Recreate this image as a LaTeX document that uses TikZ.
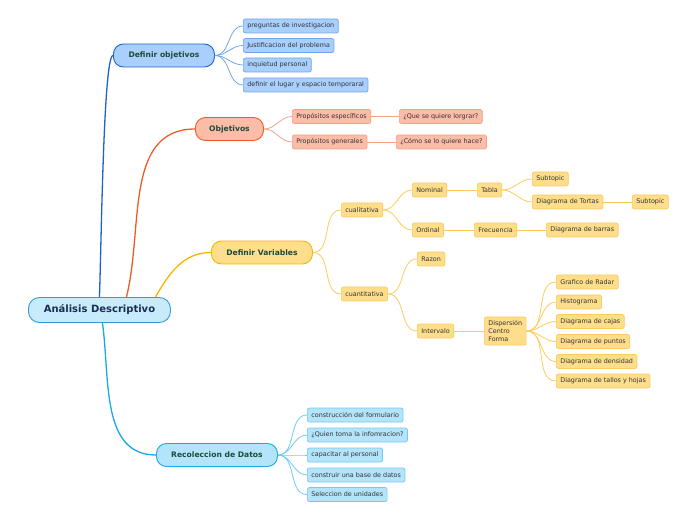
\documentclass[tikz,border=0pt]{standalone}
\usepackage{fontspec}
\setmainfont{DejaVu Sans}
\definecolor{rootfill}{HTML}{C8EBFB}
\definecolor{rootline}{HTML}{3A9AD8}
\definecolor{roottext}{HTML}{1B2D4F}
\definecolor{topictext}{HTML}{1D4B3A}
\definecolor{bluefill}{HTML}{A9CFFC}
\definecolor{blueline}{HTML}{1E62D0}
\definecolor{bluesub}{HTML}{72A6EC}
\definecolor{orgfill}{HTML}{FBBCA8}
\definecolor{orgline}{HTML}{F05A28}
\definecolor{orgsub}{HTML}{F5A088}
\definecolor{yelfill}{HTML}{FEDD8B}
\definecolor{yelline}{HTML}{F8B500}
\definecolor{yelsub}{HTML}{FCCB5E}
\definecolor{cyanfill}{HTML}{B4E4FA}
\definecolor{cyanline}{HTML}{1AA8E8}
\definecolor{cyansub}{HTML}{70CBF2}

\begin{document}
\begin{tikzpicture}[x=1pt,y=1pt,
  root/.style={draw=rootline,fill=rootfill,line width=0.9pt,rounded corners=11pt,
    minimum height=25pt,minimum width=142pt,anchor=west,text=roottext,
    font=\bfseries\fontsize{10}{12}\selectfont},
  topic/.style={draw=#1line,fill=#1fill,line width=0.9pt,rounded corners=10pt,
    minimum height=23pt,anchor=west,text=topictext,
    font=\bfseries\fontsize{7.6}{9}\selectfont},
  sub/.style={draw=#1sub,fill=#1fill,line width=0.7pt,rounded corners=2pt,
    minimum height=14pt,inner xsep=4pt,inner ysep=0pt,anchor=west,text=black!80,
    font=\fontsize{6.4}{7.6}\selectfont},
  bline/.style={every edge/.style={draw=#1line,line width=1.3pt}},
  tline/.style={every edge/.style={draw=#1sub,line width=0.8pt}},
  fan/.style={out=0,in=180}]
  \useasboundingbox (0,0) rectangle (696,520);

  \node[root] (root) at (28,210) {Análisis Descriptivo};

  % Definir objetivos
  \node[topic=blue,minimum width=101pt] (dobj) at (113,464.5) {Definir objetivos};
  \node[sub=blue] (preg) at (243,494)   {preguntas de investigacion};
  \node[sub=blue] (just) at (243,474.5) {Justificacion del problema};
  \node[sub=blue] (inq)  at (243,455)   {inquietud personal};
  \node[sub=blue] (lug)  at (243,435)   {definir el lugar y espacio temporaral};

  % Objetivos
  \node[topic=org,minimum width=68pt] (obj) at (195,391) {Objetivos};
  \node[sub=org] (pesp)   at (292,403.5) {Propósitos específicos};
  \node[sub=org] (pgen)   at (292,378)   {Propósitos generales};
  \node[sub=org] (lograr) at (399,403.5) {¿Que se quiere lorgrar?};
  \node[sub=org] (hacer)  at (396,378)   {¿Cómo se lo quiere hace?};

  % Definir Variables
  \node[topic=yel,minimum width=101pt] (var) at (211,267.5) {Definir Variables};
  \node[sub=yel] (cual)   at (341,310) {cualitativa};
  \node[sub=yel] (nom)    at (412,330) {Nominal};
  \node[sub=yel] (tabla)  at (477,330) {Tabla};
  \node[sub=yel] (subA)   at (532,341) {Subtopic};
  \node[sub=yel] (tortas) at (532,318) {Diagrama de Tortas};
  \node[sub=yel] (subB)   at (632,318) {Subtopic};
  \node[sub=yel] (ord)    at (412,290) {Ordinal};
  \node[sub=yel] (frec)   at (474,290) {Frecuencia};
  \node[sub=yel] (barras) at (546,290) {Diagrama de barras};
  \node[sub=yel] (cuan)   at (341,226) {cuantitativa};
  \node[sub=yel] (razon)  at (417,261) {Razon};
  \node[sub=yel] (interv) at (417,189) {Intervalo};
  \node[sub=yel,align=left,minimum height=28pt,inner ysep=2pt] (disp) at (484,189)
    {Dispersión\\Centro\\Forma};
  \node[sub=yel] (radar)  at (556,238)   {Grafico de Radar};
  \node[sub=yel] (hist)   at (556,218)   {Histograma};
  \node[sub=yel] (cajas)  at (556,198.5) {Diagrama de cajas};
  \node[sub=yel] (puntos) at (556,178.5) {Diagrama de puntos};
  \node[sub=yel] (dens)   at (556,158.5) {Diagrama de densidad};
  \node[sub=yel] (tallos) at (556,139)   {Diagrama de tallos y hojas};

  % Recoleccion de Datos
  \node[topic=cyan,minimum width=121pt] (rec) at (156,65) {Recoleccion de Datos};
  \node[sub=cyan] (form)  at (307,105)  {construcción del formulario};
  \node[sub=cyan] (quien) at (307,85)   {¿Quien toma la infomracion?};
  \node[sub=cyan] (cap)   at (307,65)   {capacitar al personal};
  \node[sub=cyan] (base)  at (307,45)   {construir una base de datos};
  \node[sub=cyan] (sel)   at (307,25.5) {Seleccion de unidades};

  \path[bline=blue] (root.north)
    edge[out=88,in=180,out looseness=0.6,in looseness=0.1] (dobj.west);
  \path[bline=org] ([xshift=27pt]root.north) edge[out=76,in=180] (obj.west);
  \path[bline=yel] ([xshift=56pt]root.north) edge[out=60,in=180] (var.west);
  \path[bline=cyan] ([xshift=3pt]root.south) edge[out=-82,in=180] (rec.west);

  \path[tline=blue]
    (dobj.east)
      edge[fan] (preg.west) edge[fan] (just.west)
      edge[fan] (inq.west)  edge[fan] (lug.west)
  ;
  \path[tline=org]
    (obj.east)
      edge[fan] (pesp.west) edge[fan] (pgen.west)
    (pesp) edge (lograr)
    (pgen) edge (hacer)
  ;
  \path[tline=yel]
    (var.east)
      edge[fan] (cual.west) edge[fan] (cuan.west)
    (cual.east)
      edge[fan] (nom.west) edge[fan] (ord.west)
    (nom) edge (tabla)
    (tabla.east)
      edge[fan] (subA.west) edge[fan] (tortas.west)
    (tortas) edge (subB)
    (ord) edge (frec)
    (frec) edge (barras)
    (cuan.east)
      edge[fan] (razon.west) edge[fan] (interv.west)
    (interv) edge (disp)
    (disp.east)
      edge[fan] (radar.west)  edge[fan] (hist.west)
      edge[fan] (cajas.west)  edge[fan] (puntos.west)
      edge[fan] (dens.west)   edge[fan] (tallos.west)
  ;
  \path[tline=cyan]
    (rec.east)
      edge[fan] (form.west) edge[fan] (quien.west) edge[fan] (cap.west)
      edge[fan] (base.west) edge[fan] (sel.west)
  ;
\end{tikzpicture}
\end{document}
